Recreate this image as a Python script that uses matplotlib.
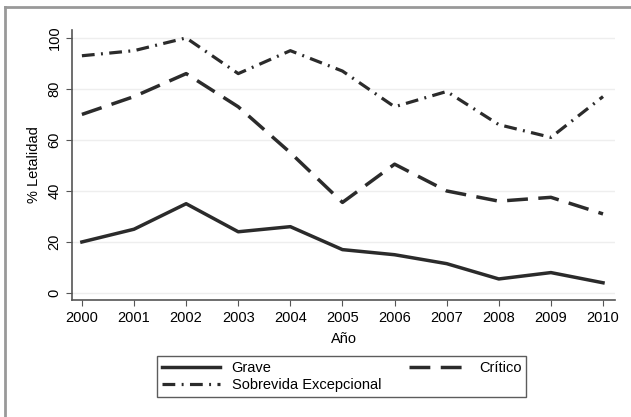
import matplotlib
matplotlib.use("Agg")
import matplotlib.pyplot as plt
from matplotlib.lines import Line2D

plt.rcParams["font.family"] = ["Liberation Sans", "DejaVu Sans"]

# Data
years = [2000, 2001, 2002, 2003, 2004, 2005, 2006, 2007, 2008, 2009, 2010]
grave = [20, 25, 35, 24, 26, 17, 15, 11.5, 5.5, 8, 4]
critico = [70, 77, 86, 73, 55, 35.5, 50.5, 40, 36, 37.5, 31]
sobrevida = [93, 95, 100, 86, 95, 87, 73, 79, 66, 61, 77]
y_ticks = [0, 20, 40, 60, 80, 100]

LINE = "#2b2b2b"
FS = 10.5

fig = plt.figure(figsize=(6.31, 4.17), dpi=100)
ax = fig.add_axes([72 / 631, 1 - 300 / 417, (615 - 72) / 631, (300 - 30) / 417])

ax.plot(years, grave, color=LINE, lw=2.5, ls="-", label="Grave")
ax.plot(years, critico, color=LINE, lw=2.5, ls=(0, (6, 3)), label="Crítico")
ax.plot(years, sobrevida, color=LINE, lw=2.3, ls=(0, (4, 2, 0.6, 2)),
        label="Sobrevida Excepcional")

ax.set_xlim(1999.81, 2010.23)
ax.set_ylim(-2.75, 103.1)
ax.set_xticks(years)
ax.set_yticks(y_ticks)
ax.tick_params(axis="y", labelrotation=90, labelsize=FS, length=4, color="#555")
ax.tick_params(axis="x", labelsize=FS, length=4, color="#555", pad=4)
for lab in ax.get_yticklabels():
    lab.set_va("center")
ax.grid(axis="y", color="#eeeeee", lw=1)
ax.set_axisbelow(True)
for s in ["top", "right"]:
    ax.spines[s].set_visible(False)
for s in ["left", "bottom"]:
    ax.spines[s].set_color("#555")
    ax.spines[s].set_linewidth(1.2)

ax.set_xlabel("Año", fontsize=FS, labelpad=5)
ax.set_ylabel("% Letalidad", fontsize=FS, labelpad=5)

handles, labels = ax.get_legend_handles_labels()
order = [0, 2, 1]
leg = fig.legend([handles[i] for i in order], [labels[i] for i in order],
                 ncol=2, loc="lower left",
                 bbox_to_anchor=(150 / 631, 1 - 404 / 417, (533 - 150) / 631, 51 / 417),
                 mode="expand", fontsize=FS, frameon=True, fancybox=False,
                 edgecolor="#333", handlelength=4.0, borderpad=0.3,
                 labelspacing=0.25, columnspacing=1.0)
leg.get_frame().set_linewidth(1.0)

# grey graph-region border (left and top)
fig.add_artist(Line2D([5 / 631, 5 / 631], [0, 1 - 7 / 417], color="#999", lw=2))
fig.add_artist(Line2D([5 / 631, 1], [1 - 7 / 417, 1 - 7 / 417], color="#999", lw=2))

fig.savefig("out.png", dpi=100)
